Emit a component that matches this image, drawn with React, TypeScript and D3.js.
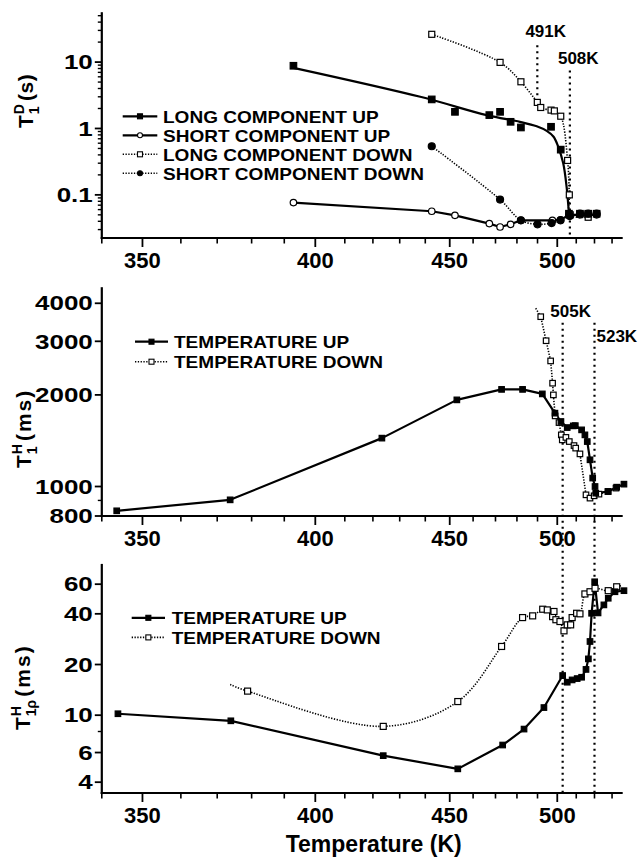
import React, { useEffect, useRef } from 'react';
import * as d3 from 'd3';

const WIDTH = 642;
const HEIGHT = 859;
const FONT = "'Liberation Sans', Arial, Helvetica, sans-serif";

// temperature axis (K), shared by the three panels, plotted against 1/T
const tempDomain = [340, 535.6];
const tempMajor = [350, 400, 450, 500];
const tempMinor = [340, 360, 370, 380, 390, 410, 420, 430, 440, 460, 470, 480, 490, 510, 520, 530];

// ---- panel 1 : T1D (s)
const t1dDomain = [0.0224, 54.3];
const t1dLabels = [0.1, 1, 10];
const t1dMinor = [0.03, 0.04, 0.05, 0.06, 0.07, 0.08, 0.09, 0.2, 0.3, 0.4, 0.5, 0.6, 0.7, 0.8, 0.9,
  2, 3, 4, 5, 6, 7, 8, 9, 20, 30, 40, 50];

const longUpT = [392.9, 442.6, 452.2, 467.2, 472.1, 477.0, 481.9, 496.8, 501.8, 506.1, 512.0, 516.5, 521.2];
const longUpV = [8.8, 2.74, 1.78, 1.59, 1.78, 1.26, 1.035, 1.06, 0.48, 0.052, 0.052, 0.052, 0.052];
// fitted curve drawn through the long component (up)
const longUpFitT = [392.9, 438, 466, 481.4, 489.6, 494.6, 498.1, 500.5, 503.1, 504.9, 506.1];
const longUpFitV = [8.2, 3.0, 1.59, 1.26, 1.08, 0.92, 0.75, 0.53, 0.30, 0.13, 0.052];

const shortUpT = [392.9, 442.6, 452.2, 467.2, 472.1, 477.0, 481.9, 497.5, 501.7, 506.1, 512.0, 516.5, 521.2];
const shortUpV = [0.0765, 0.0566, 0.0492, 0.0369, 0.0328, 0.036, 0.0414, 0.0414, 0.042, 0.05, 0.05, 0.05, 0.05];

const longDownT = [442.6, 472.1, 481.9, 489.9, 491.6, 496.8, 498.5, 501.8, 505.4, 506.3, 506.8, 516.5];
const longDownV = [26.2, 9.9, 5.05, 2.47, 2.07, 1.89, 1.84, 1.53, 0.33, 0.1, 0.05, 0.046];

const shortDownT = [442.6, 472.1, 481.9, 490.0, 497.1, 501.7, 506.5, 512.0, 516.5, 521.2];
const shortDownV = [0.54, 0.085, 0.0414, 0.036, 0.0376, 0.0414, 0.048, 0.052, 0.052, 0.052];

const topRefT = [489.9, 506.6];
const topRefLabels = ['491K', '508K'];
const topRefFrom = [18, 7.5];
const topRefTo = [2.6, 0.0224];
const topRefLabelV = [23.5, 9.2];

const topLegend = ['LONG COMPONENT UP', 'SHORT COMPONENT UP', 'LONG COMPONENT DOWN', 'SHORT COMPONENT DOWN'];

// ---- panel 2 : T1H (ms)
const t1hDomain = [800, 4480];
const t1hLabels = [800, 1000, 2000, 3000, 4000];
const t1hMinor = [900];

const midUpT = [343.6, 373.7, 423.3, 453.0, 472.8, 482.7, 492.4, 498.8, 501.9, 505.2, 508.4, 509.5, 512.9,
  514.7, 516.0, 517.5, 519.0, 520.3, 520.7, 527.8, 532.7, 537.0];
const midUpV = [832, 904, 1442, 1926, 2085, 2085, 2015, 1742, 1635, 1562, 1582, 1585, 1535,
  1478, 1405, 1224, 1066, 1000, 951, 963, 995, 1018];

const midDownLead = [489.1, 3852];
const midDownT = [491.6, 494.3, 496.6, 497.6, 498.0, 498.9, 500.9, 502.1, 502.6, 504.5, 506.3, 508.8, 509.7,
  512.0, 515.3, 517.5, 519.8, 522.5, 527.6, 532.3];
const midDownV = [3614, 3013, 2586, 2185, 2000, 1706, 1622, 1478, 1423, 1450, 1405, 1363, 1337,
  1280, 939, 916, 932, 944, 963, 988];

// ---- panel 3 : T1rhoH (ms)
const t1rDomain = [3.45, 78];
const t1rLabels = [4, 6, 10, 20, 40, 60];
const t1rMinor = [8];

const botUpT = [343.9, 373.9, 423.8, 453.4, 473.3, 483.4, 493.2, 502.8, 505.2, 507.8, 510.5, 512.9, 515.3,
  516.6, 517.5, 518.4, 520.1, 522.0, 525.3, 527.8, 531.7, 537.0];
const botUpV = [10.2, 9.26, 5.75, 4.8, 6.65, 8.27, 11.1, 17.2, 15.7, 16.2, 16.5, 16.8, 18.7,
  21.6, 27.4, 40.3, 62, 40.5, 45.2, 49.5, 54.1, 54.9];

const botDownLead = [373.7, 15.2];
const botDownT = [378.8, 423.8, 453.4, 472.8, 482.7, 487.6, 492.6, 494.9, 497.6, 498.3, 499.3, 501.4, 503.5,
  505.2, 507.0, 507.8, 510.2, 512.0, 514.7, 517.5, 520.3, 527.8, 532.7];
const botDownV = [13.9, 8.58, 12.05, 25.6, 38.0, 38.9, 42.6, 42.2, 38.5, 41.3, 36.9, 36.0, 31.7,
  34.4, 34.4, 38.0, 40.3, 40.0, 52.5, 54.1, 56.7, 54.9, 57.9];
const botDownTail = [535.6, 58.8];

// the two transition lines run through panels 2 and 3
const lowRefT = [502.8, 520.0];
const lowRefLabels = ['505K', '523K'];
const lowRefFrom = 3450;

const tempLegend = ['TEMPERATURE UP', 'TEMPERATURE DOWN'];

type Pt = [number, number];

export default function App() {
  const ref = useRef<SVGSVGElement>(null);

  useEffect(() => {
    const svg = d3.select(ref.current);
    svg.selectAll('*').remove();
    svg.append('rect').attr('width', WIDTH).attr('height', HEIGHT).attr('fill', '#fff');

    const x = d3.scalePow().exponent(-1).domain(tempDomain).range([101.8, 621.6]);
    const xL = x.range()[0];
    const xR = x.range()[1];

    const yTop = d3.scaleLog().domain(t1dDomain).range([238, 13.3]);
    const yMid = d3.scaleLog().domain(t1hDomain).range([516, 288.3]);
    const yBot = d3.scaleLog().domain(t1rDomain).range([793, 565]);

    const txt = (g: any) => g.attr('font-family', FONT).attr('font-weight', 'bold').attr('fill', '#000');

    // axes for one panel
    function axes(y: any, labels: number[], minor: number[]) {
      const g = svg.append('g').attr('stroke', '#000');
      const [yb, yt] = y.range();
      g.append('line').attr('x1', xL).attr('x2', xL).attr('y1', yt).attr('y2', yb)
        .attr('stroke-width', 2.2).attr('stroke-linecap', 'square');
      g.append('line').attr('x1', xL).attr('x2', xR).attr('y1', yb).attr('y2', yb)
        .attr('stroke-width', 2.2).attr('stroke-linecap', 'square');
      // x ticks
      g.selectAll(null).data(tempMajor).enter().append('line')
        .attr('x1', d => x(d)).attr('x2', d => x(d)).attr('y1', yb).attr('y2', yb + 9).attr('stroke-width', 1.8);
      g.selectAll(null).data(tempMinor).enter().append('line')
        .attr('x1', d => x(d)).attr('x2', d => x(d)).attr('y1', yb).attr('y2', yb + 5.5).attr('stroke-width', 1.6);
      // y ticks
      g.selectAll(null).data(labels).enter().append('line')
        .attr('x1', xL - 7).attr('x2', xL).attr('y1', d => y(d)).attr('y2', d => y(d)).attr('stroke-width', 1.8);
      g.selectAll(null).data(minor).enter().append('line')
        .attr('x1', xL - 4).attr('x2', xL).attr('y1', d => y(d)).attr('y2', d => y(d)).attr('stroke-width', 1.4);

      const lab = svg.append('g');
      lab.selectAll(null).data(tempMajor).enter().append('text')
        .attr('x', d => x(d)).attr('y', yb + 30).attr('text-anchor', 'middle').attr('font-size', 22)
        .text(d => d).call(txt);
      lab.selectAll(null).data(labels).enter().append('text')
        .attr('transform', d => `translate(${xL - 9},${y(d)}) scale(1.3,1)`)
        .attr('dy', '0.36em').attr('text-anchor', 'end').attr('font-size', 20)
        .text(d => String(d)).call(txt);
    }

    function yTitle(bx: number, by: number, sup: string, sub: string, unit: string, spacing: number) {
      const t = svg.append('text').attr('transform', `translate(${bx},${by}) rotate(-90)`)
        .attr('font-size', 21).call(txt);
      t.append('tspan').text('T');
      const s1 = t.append('tspan').attr('font-size', 14).attr('dx', 1).attr('dy', -9).text(sup);
      const w1 = (s1.node() as SVGTextContentElement).getComputedTextLength();
      const s2 = t.append('tspan').attr('font-size', 14).attr('dx', -w1).attr('dy', 15).text(sub);
      const w2 = (s2.node() as SVGTextContentElement).getComputedTextLength();
      t.append('tspan').attr('dx', Math.max(w1 - w2, 0) + 3).attr('dy', -6)
        .attr('letter-spacing', spacing).text(unit);
    }

    const mk = (T: number[], V: number[]): Pt[] => d3.zip(T, V) as Pt[];

    function path(y: any, pts: Pt[], dotted: boolean, curve: any) {
      const line = d3.line<Pt>().x(d => x(d[0])).y(d => y(d[1])).curve(curve);
      svg.append('path').attr('d', line(pts)).attr('fill', 'none').attr('stroke', '#000')
        .attr('stroke-width', dotted ? 1.6 : 2.2)
        .attr('stroke-dasharray', dotted ? '1.3 1.5' : null)
        .attr('stroke-linejoin', 'round');
    }

    function markers(y: any, pts: Pt[], kind: string, size: number) {
      const g = svg.append('g');
      const sel = g.selectAll(null).data(pts).enter();
      if (kind === 'sq' || kind === 'osq') {
        sel.append('rect')
          .attr('x', d => x(d[0]) - size / 2).attr('y', d => y(d[1]) - size / 2)
          .attr('width', size).attr('height', size)
          .attr('fill', kind === 'sq' ? '#000' : '#fff').attr('stroke', '#000').attr('stroke-width', 1.2);
      } else {
        sel.append('circle')
          .attr('cx', d => x(d[0])).attr('cy', d => y(d[1])).attr('r', size / 2)
          .attr('fill', kind === 'fc' ? '#000' : '#fff').attr('stroke', '#000').attr('stroke-width', 1.2);
      }
    }

    function legendMarker(cx: number, cy: number, kind: string, size: number) {
      if (kind === 'sq' || kind === 'osq') {
        svg.append('rect').attr('x', cx - size / 2).attr('y', cy - size / 2).attr('width', size).attr('height', size)
          .attr('fill', kind === 'sq' ? '#000' : '#fff').attr('stroke', '#000').attr('stroke-width', 1.1);
      } else {
        svg.append('circle').attr('cx', cx).attr('cy', cy).attr('r', size / 2)
          .attr('fill', kind === 'fc' ? '#000' : '#fff').attr('stroke', '#000').attr('stroke-width', 1.1);
      }
    }

    function legend(x0: number, x1: number, tx: number, y0: number, dy: number,
      labels: string[], dotted: boolean[], kinds: string[]) {
      labels.forEach((l, i) => {
        const cy = y0 + i * dy;
        svg.append('line').attr('x1', x0).attr('x2', x1).attr('y1', cy).attr('y2', cy)
          .attr('stroke', '#000').attr('stroke-width', dotted[i] ? 1.6 : 2.2)
          .attr('stroke-dasharray', dotted[i] ? '1.3 1.5' : null);
        legendMarker((x0 + x1) / 2, cy, kinds[i], 5);
        svg.append('text').attr('transform', `translate(${tx},${cy + 6.3}) scale(1.12,1)`)
          .attr('font-size', 17).text(l).call(txt);
      });
    }

    function refLine(xv: number, y1: number, y2: number) {
      svg.append('line').attr('x1', xv).attr('x2', xv).attr('y1', y1).attr('y2', y2)
        .attr('stroke', '#000').attr('stroke-width', 2.2).attr('stroke-dasharray', '2 4');
    }

    // ---------- panel 1
    axes(yTop, t1dLabels, t1dMinor);
    yTitle(33, 128, 'D', '1', '(s)', 0.5);
    topRefT.forEach((t, i) => refLine(x(t), yTop(topRefFrom[i]), yTop(topRefTo[i])));
    path(yTop, mk(longUpFitT, longUpFitV), false, d3.curveCatmullRom);
    path(yTop, mk(shortUpT, shortUpV), false, d3.curveLinear);
    path(yTop, mk(longDownT, longDownV), true, d3.curveCatmullRom);
    path(yTop, mk(shortDownT, shortDownV), true, d3.curveCatmullRom);
    markers(yTop, mk(shortUpT, shortUpV), 'oc', 6.5);
    markers(yTop, mk(longDownT, longDownV), 'osq', 6);
    markers(yTop, mk(shortDownT, shortDownV), 'fc', 7);
    markers(yTop, mk(longUpT, longUpV), 'sq', 6.5);
    topRefLabels.forEach((l, i) => {
      svg.append('text').attr('x', x(topRefT[i]) + 8.4).attr('y', yTop(topRefLabelV[i]))
        .attr('text-anchor', 'middle').attr('font-size', 17).text(l).call(txt);
    });
    legend(122.7, 157.3, 163, 116.3, 19, topLegend, [false, false, true, true], ['sq', 'oc', 'osq', 'fc']);

    // ---------- panel 2
    axes(yMid, t1hLabels, t1hMinor);
    yTitle(31, 468, 'H', '1', '(ms)', 2);
    lowRefT.forEach(t => refLine(x(t), yMid(lowRefFrom), yBot.range()[0]));
    path(yMid, mk(midUpT, midUpV), false, d3.curveLinear);
    path(yMid, [midDownLead as Pt, ...mk(midDownT, midDownV)], true, d3.curveLinear);
    markers(yMid, mk(midDownT, midDownV), 'osq', 5.5);
    markers(yMid, mk(midUpT, midUpV), 'sq', 5.5);
    svg.append('text').attr('x', x(lowRefT[0]) + 8).attr('y', 316.7)
      .attr('text-anchor', 'middle').attr('font-size', 17).text(lowRefLabels[0]).call(txt);
    svg.append('text').attr('x', x(lowRefT[1]) + 2).attr('y', 341.7)
      .attr('text-anchor', 'start').attr('font-size', 17).text(lowRefLabels[1]).call(txt);
    legend(135, 168, 174, 341.7, 20, tempLegend, [false, true], ['sq', 'osq']);

    // ---------- panel 3
    axes(yBot, t1rLabels, t1rMinor);
    yTitle(30, 730, 'H', '1ρ', '(ms)', 2);
    path(yBot, mk(botUpT, botUpV), false, d3.curveLinear);
    path(yBot, [botDownLead as Pt, ...mk(botDownT, botDownV), botDownTail as Pt], true, d3.curveCatmullRom);
    markers(yBot, mk(botDownT, botDownV), 'osq', 6);
    markers(yBot, mk(botUpT, botUpV), 'sq', 5.5);
    legend(131.7, 165, 171.7, 617.8, 19.6, tempLegend, [false, true], ['sq', 'osq']);

    svg.append('text').attr('x', (xL + xR) / 2 + 12).attr('y', 852)
      .attr('text-anchor', 'middle').attr('font-size', 23).text('Temperature (K)').call(txt);
  }, []);

  return (
    <svg ref={ref} width={WIDTH} height={HEIGHT}
      style={{ position: 'absolute', left: 0, top: 0, display: 'block' }} />
  );
}
